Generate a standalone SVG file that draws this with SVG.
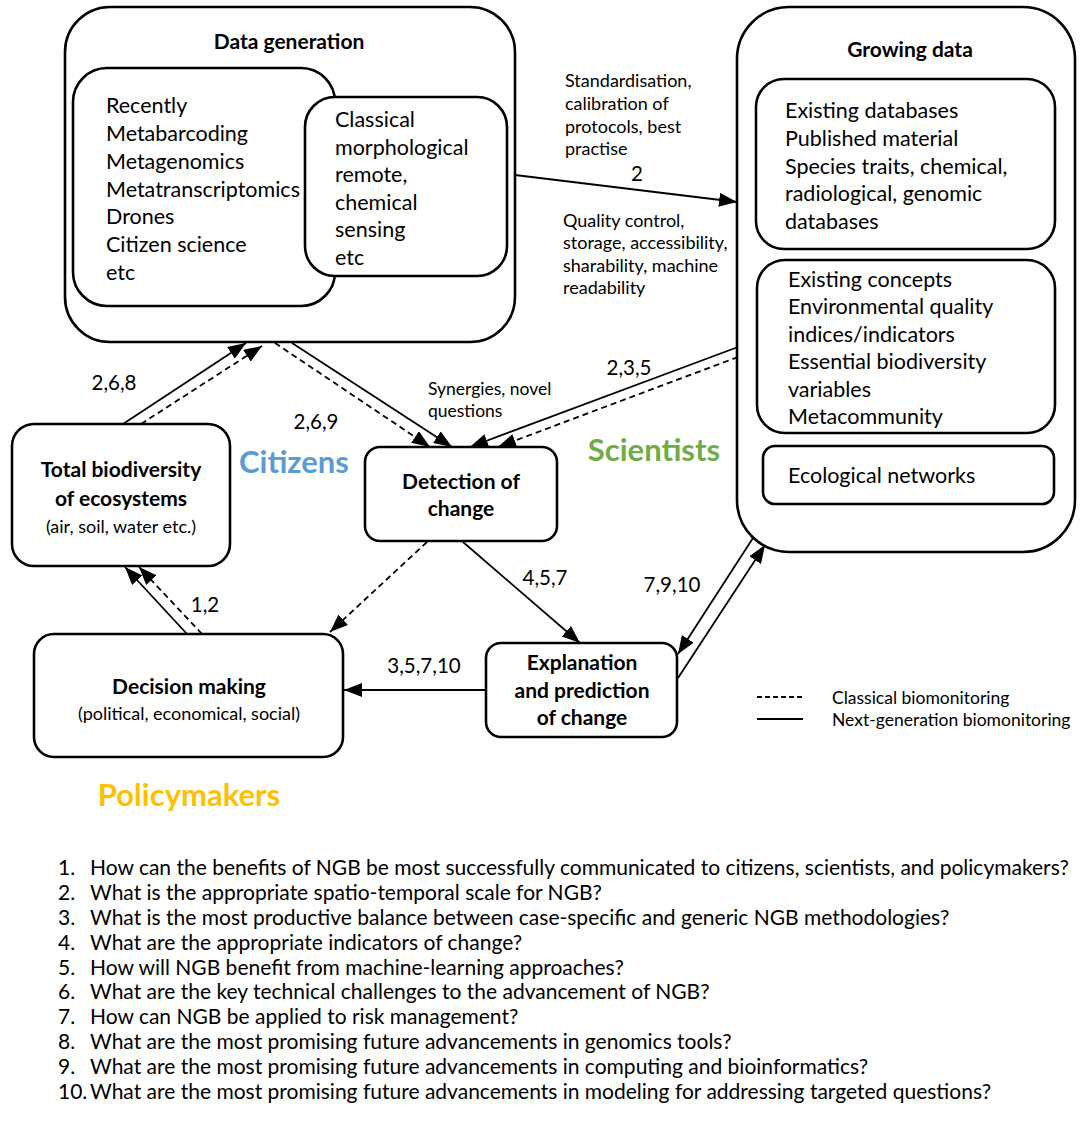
<svg xmlns="http://www.w3.org/2000/svg" width="1084" height="1130" viewBox="0 0 1084 1130">
<style>
text{font-family:Lato,"Liberation Sans",sans-serif;fill:#000}
.box{fill:#fff;stroke:#000;stroke-width:2.6}
.t{font-weight:bold;font-size:21px;text-anchor:middle}
.s{font-size:18px;text-anchor:middle}
.b{font-size:21.5px}
.lab{font-size:18px}
.syn{font-size:17.5px}
.num{font-size:20.5px;text-anchor:middle}
.big{font-weight:bold;font-size:31px;text-anchor:middle}
.c{fill:none;stroke:#000;stroke-width:1.8}
.d{stroke-dasharray:6 4}
.leg{font-size:17.5px}
.q{font-size:21px}
</style>
<defs>
<marker id="ah" viewBox="0 0 18 14" refX="18" refY="7" markerWidth="18" markerHeight="14" markerUnits="userSpaceOnUse" orient="auto">
<path d="M0,0 L18,7 L0,14 z" fill="#000"/>
</marker>
</defs>
<rect width="1084" height="1130" fill="#fff"/>

<g id="data-generation">
<rect class="box" x="65" y="7" width="450" height="335" rx="45"/>
<text class="t" x="289" y="49">Data generation</text>
<rect class="box" x="73" y="68" width="262" height="238" rx="34"/>
<text class="b" x="106" y="113">Recently</text>
<text class="b" x="106" y="141">Metabarcoding</text>
<text class="b" x="106" y="169">Metagenomics</text>
<text class="b" x="106" y="197">Metatranscriptomics</text>
<text class="b" x="106" y="224">Drones</text>
<text class="b" x="106" y="252">Citizen science</text>
<text class="b" x="106" y="280">etc</text>
<rect class="box" x="305" y="97" width="202" height="179" rx="30"/>
<text class="b" x="335" y="127">Classical</text>
<text class="b" x="335" y="155">morphological</text>
<text class="b" x="335" y="182">remote,</text>
<text class="b" x="335" y="210">chemical</text>
<text class="b" x="335" y="237">sensing</text>
<text class="b" x="335" y="265">etc</text>
</g>

<g id="growing-data">
<rect class="box" x="737" y="7" width="338" height="545" rx="52"/>
<text class="t" x="910" y="57">Growing data</text>
<rect class="box" x="756" y="79" width="299" height="170" rx="28"/>
<text class="b" x="785" y="118">Existing databases</text>
<text class="b" x="785" y="146">Published material</text>
<text class="b" x="785" y="174">Species traits, chemical,</text>
<text class="b" x="785" y="201">radiological, genomic</text>
<text class="b" x="785" y="229">databases</text>
<rect class="box" x="757" y="260" width="298" height="173" rx="28"/>
<text class="b" x="788" y="287">Existing concepts</text>
<text class="b" x="788" y="314">Environmental quality</text>
<text class="b" x="788" y="342">indices/indicators</text>
<text class="b" x="788" y="369">Essential biodiversity</text>
<text class="b" x="788" y="397">variables</text>
<text class="b" x="788" y="424">Metacommunity</text>
<rect class="box" x="763" y="446" width="291" height="58" rx="12"/>
<text class="b" x="788" y="483">Ecological networks</text>
</g>

<g id="total-biodiversity">
<rect class="box" x="12" y="424" width="218" height="142" rx="22"/>
<text class="t" x="121" y="477">Total biodiversity</text>
<text class="t" x="121" y="506">of ecosystems</text>
<text class="s" x="121" y="533">(air, soil, water etc.)</text>
</g>

<g id="detection">
<rect class="box" x="365" y="447" width="192" height="94" rx="15"/>
<text class="t" x="461" y="489">Detection of</text>
<text class="t" x="461" y="516">change</text>
</g>

<g id="decision">
<rect class="box" x="34" y="634" width="309" height="123" rx="20"/>
<text class="t" x="189" y="694">Decision making</text>
<text class="s" x="189" y="720">(political, economical, social)</text>
</g>

<g id="explanation">
<rect class="box" x="486" y="643" width="191" height="94" rx="15"/>
<text class="t" x="582" y="670">Explanation</text>
<text class="t" x="582" y="698">and prediction</text>
<text class="t" x="582" y="725">of change</text>
</g>

<g id="connectors">
<line class="c" x1="515" y1="175" x2="737" y2="202" marker-end="url(#ah)"/>
<line class="c" x1="123" y1="424" x2="246" y2="343" marker-end="url(#ah)"/>
<line class="c d" x1="141" y1="424" x2="262" y2="346" marker-end="url(#ah)"/>
<line class="c d" x1="275" y1="343" x2="430" y2="447" marker-end="url(#ah)"/>
<line class="c" x1="292" y1="343" x2="452" y2="447" marker-end="url(#ah)"/>
<line class="c" x1="738" y1="347" x2="470" y2="447" marker-end="url(#ah)"/>
<line class="c d" x1="738" y1="357" x2="498" y2="447" marker-end="url(#ah)"/>
<line class="c d" x1="427" y1="542" x2="330" y2="632" marker-end="url(#ah)"/>
<line class="c" x1="463" y1="542" x2="580" y2="643" marker-end="url(#ah)"/>
<line class="c" x1="486" y1="690" x2="344" y2="690" marker-end="url(#ah)"/>
<line class="c" x1="187" y1="634" x2="125" y2="567" marker-end="url(#ah)"/>
<line class="c d" x1="202" y1="634" x2="139" y2="567" marker-end="url(#ah)"/>
<line class="c" x1="753" y1="538" x2="678" y2="654" marker-end="url(#ah)"/>
<line class="c" x1="678" y1="678" x2="765" y2="545" marker-end="url(#ah)"/>
</g>

<g id="labels">
<text class="lab" x="565" y="87">Standardisation,</text>
<text class="lab" x="565" y="110">calibration of</text>
<text class="lab" x="565" y="133">protocols, best</text>
<text class="lab" x="565" y="155">practise</text>
<text class="num" x="637" y="181">2</text>
<text class="lab" x="563" y="227">Quality control,</text>
<text class="lab" x="563" y="249">storage, accessibility,</text>
<text class="lab" x="563" y="272">sharability, machine</text>
<text class="lab" x="563" y="294">readability</text>
<text class="num" x="114" y="390">2,6,8</text>
<text class="num" x="316" y="429">2,6,9</text>
<text class="syn" x="428" y="395">Synergies, novel</text>
<text class="syn" x="428" y="417">questions</text>
<text class="num" x="629" y="375">2,3,5</text>
<text class="num" x="205" y="612">1,2</text>
<text class="num" x="545" y="585">4,5,7</text>
<text class="num" x="672" y="592">7,9,10</text>
<text class="num" x="424" y="673">3,5,7,10</text>
<text class="big" x="294" y="473" style="fill:#5B9BD5">Citizens</text>
<text class="big" x="654" y="461" style="fill:#70AD47">Scientists</text>
<text class="big" x="189" y="806" style="fill:#FFC000">Policymakers</text>
</g>

<g id="legend">
<line class="c" x1="757" y1="697" x2="803" y2="697" style="stroke-dasharray:5 3"/>
<line class="c" x1="757" y1="719" x2="803" y2="719"/>
<text class="leg" x="832" y="704">Classical biomonitoring</text>
<text class="leg" x="832" y="726">Next-generation biomonitoring</text>
</g>

<g id="questions">
<text class="q" x="58" y="875">1.</text><text class="q" x="90" y="875">How can the benefits of NGB be most successfully communicated to citizens, scientists, and policymakers?</text>
<text class="q" x="58" y="900">2.</text><text class="q" x="90" y="900">What is the appropriate spatio-temporal scale for NGB?</text>
<text class="q" x="58" y="925">3.</text><text class="q" x="90" y="925">What is the most productive balance between case-specific and generic NGB methodologies?</text>
<text class="q" x="58" y="950">4.</text><text class="q" x="90" y="950">What are the appropriate indicators of change?</text>
<text class="q" x="58" y="975">5.</text><text class="q" x="90" y="975">How will NGB benefit from machine-learning approaches?</text>
<text class="q" x="58" y="999">6.</text><text class="q" x="90" y="999">What are the key technical challenges to the advancement of NGB?</text>
<text class="q" x="58" y="1024">7.</text><text class="q" x="90" y="1024">How can NGB be applied to risk management?</text>
<text class="q" x="58" y="1049">8.</text><text class="q" x="90" y="1049">What are the most promising future advancements in genomics tools?</text>
<text class="q" x="58" y="1074">9.</text><text class="q" x="90" y="1074">What are the most promising future advancements in computing and bioinformatics?</text>
<text class="q" x="58" y="1099">10.</text><text class="q" x="90" y="1099">What are the most promising future advancements in modeling for addressing targeted questions?</text>
</g>
</svg>
